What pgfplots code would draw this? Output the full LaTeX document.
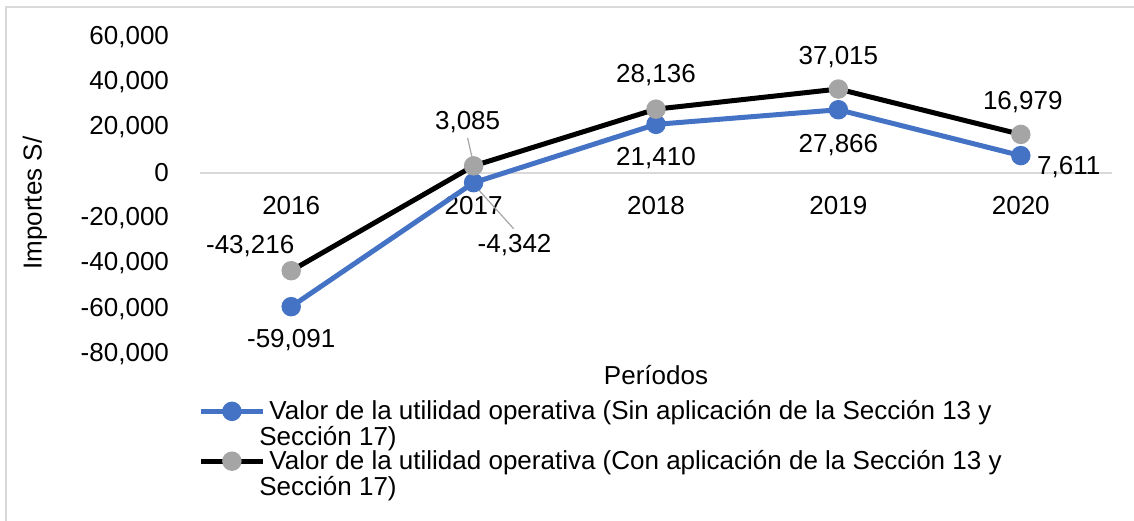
\documentclass[border=0pt]{standalone}
\usepackage{pgfplots}
\pgfplotsset{compat=1.18}
\usepackage{pgfplotstable}
\usepackage{fontspec}
\setmainfont{Liberation Sans}

\definecolor{serieA}{HTML}{4472C4}
\definecolor{serieB}{HTML}{A5A5A5}
\definecolor{marco}{HTML}{D9D9D9}

% x, value, label shift (pt)
\pgfplotstableread{
x  y       dx    dy
0  -59091  0     -16.5
1  -4342   20.5  -31
2  21410   0     -16.75
3  27866   0     -17.5
4  7611    24    -5.5
}\sinSeccion

\pgfplotstableread{
x  y       dx    dy
0  -43216  -20.5 12.5
1  3085    -3    22
2  28136   0     17
3  37015   0     16
4  16979   1     16
}\conSeccion

\begin{document}
\begin{tikzpicture}
\useasboundingbox (-100pt,-83pt) rectangle (467pt,177pt);
\draw[marco, line width=1pt] (-97pt,-90pt) -- (-97pt,173.5pt) -- (480pt,173.5pt);
\begin{axis}[
    at={(0,0)}, anchor=south west,
    scale only axis,
    width=456pt, height=158.5pt,
    font=\fontsize{13}{15}\selectfont,
    xmin=-0.5, xmax=4.5,
    ymin=-80000, ymax=60000,
    ytick={-80000,-60000,...,60000},
    xtick={0,...,4},
    xticklabels={2016,2017,2018,2019,2020},
    axis x line=middle,
    axis y line=left,
    x axis line style={marco, line width=1pt, -},
    y axis line style={draw=none},
    major tick length=0pt,
    /pgf/number format/assume math mode=true,
    /pgf/number format/1000 sep={,},
    scaled y ticks=false,
    yticklabel style={xshift=-12pt},
    xticklabel style={yshift=-8pt},
    ylabel={Importes S/},
    xlabel={Períodos},
    every axis y label/.style={at={(axis description cs:-0.181,0.476)}, rotate=90, anchor=center},
    every axis x label/.style={at={(axis description cs:0.5,-0.066)}, anchor=center},
    clip=false,
    nodes near coords,
    nodes near coords align=center,
    every node near coord/.append style={anchor=center, xshift=\dx pt, yshift=\dy pt, text=black},
    visualization depends on={\thisrow{dx} \as \dx},
    visualization depends on={\thisrow{dy} \as \dy},
    legend style={
        at={(0,0)}, anchor=north west, yshift=-19pt, xshift=-4pt,
        draw=none, fill=none,
        font=\fontsize{13}{12.85}\selectfont,
        cells={anchor=west, align=left},
        row sep=-3pt,
    },
    legend image code/.code={
        \path (0pt,-10pt);
        \draw[mark repeat=2, mark phase=2, #1] plot coordinates {(0pt,6.5pt) (15.5pt,6.5pt) (31pt,6.5pt)};
    },
]
\addplot[serieA, line width=2.5pt, mark=*, mark size=3.6pt,
    mark options={fill=serieA, draw=serieA}] table[x=x, y=y] {\sinSeccion};
\addlegendentry{Valor de la utilidad operativa (Sin aplicación de la Sección 13 y\\\hspace*{-5pt}Sección 17)}
\addplot[black, line width=2.5pt, mark=*, mark size=3.6pt,
    mark options={fill=serieB, draw=serieB}] table[x=x, y=y] {\conSeccion};
\addlegendentry{Valor de la utilidad operativa (Con aplicación de la Sección 13 y\\\hspace*{-5pt}Sección 17)}
% leader lines of the two shifted labels
\draw[serieB, line width=0.6pt] (axis cs:1,-4342) ++(2pt,-3pt) -- ++(18pt,-20pt);
\draw[serieB, line width=0.6pt] (axis cs:1,3085) ++(-0.5pt,3pt) -- ++(-2.5pt,11pt);
\end{axis}
\end{tikzpicture}
\end{document}
